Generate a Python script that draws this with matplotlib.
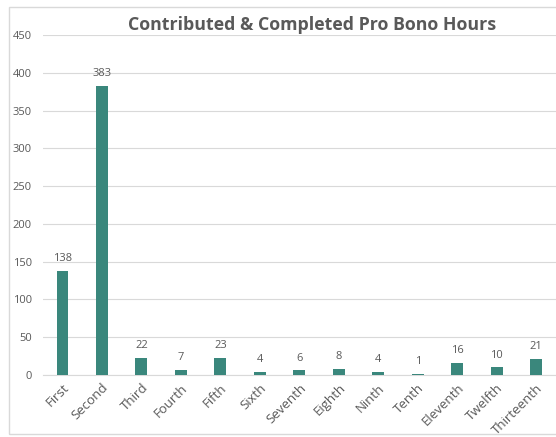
import matplotlib

matplotlib.use("Agg")
import matplotlib.pyplot as plt
import matplotlib.transforms as mtransforms
from matplotlib.patches import Rectangle

categories = ["First", "Second", "Third", "Fourth", "Fifth", "Sixth", "Seventh",
              "Eighth", "Ninth", "Tenth", "Eleventh", "Twelfth", "Thirteenth"]
hours = [138, 383, 22, 7, 23, 4, 6, 8, 4, 1, 16, 10, 21]
y_ticks = [0, 50, 100, 150, 200, 250, 300, 350, 400, 450]

_BAR = "#3a877c"
_TEXT = "#595959"
_GRID = "#d9d9d9"
W, H = 556, 437

plt.rcParams["font.family"] = ["Open Sans", "DejaVu Sans"]

fig = plt.figure(figsize=(W / 100, H / 100), dpi=100)
fig.patches.append(Rectangle((9 / W, 3 / H), 560 / W, 427 / H,
                             transform=fig.transFigure, fill=False,
                             edgecolor="#d9d9d9", linewidth=1.0))
ax = fig.add_axes((42.7 / W, 1 - 375 / H, (W - 42.7) / W, 340 / H))

x = list(range(len(categories)))
ax.bar(x, hours, width=0.30, color=_BAR, zorder=3)
for xi, value in zip(x, hours):
    ax.annotate(str(value), (xi, value), xytext=(0, 5), textcoords="offset points",
                ha="center", va="bottom", fontsize=8, color=_TEXT)

ax.set_xlim(-0.5, 12.5)
ax.set_ylim(0, 450)
ax.set_yticks(y_ticks)
ax.set_yticklabels([str(v) for v in y_ticks], fontsize=8, color=_TEXT)
ax.set_xticks(x)
ax.set_xticklabels(categories, rotation=45, ha="right", rotation_mode="anchor",
                   fontsize=9.5, color=_TEXT)
shift = mtransforms.ScaledTranslation(4 / 100, 0, fig.dpi_scale_trans)
for label in ax.get_xticklabels():
    label.set_transform(label.get_transform() + shift)
ax.tick_params(axis="both", length=0)
ax.tick_params(axis="x", pad=4.5)
ax.tick_params(axis="y", pad=7.7)
ax.grid(axis="y", color=_GRID, linewidth=0.8, zorder=0)
for side in ["top", "right", "left"]:
    ax.spines[side].set_visible(False)
ax.spines["bottom"].set_color(_GRID)
ax.spines["bottom"].set_linewidth(0.8)

fig.text(312.5 / W, 1 - 25.5 / H, "Contributed & Completed Pro Bono Hours",
         ha="center", va="center", fontsize=12.8, fontweight="bold", color=_TEXT)

fig.savefig("out.png", dpi=100)
